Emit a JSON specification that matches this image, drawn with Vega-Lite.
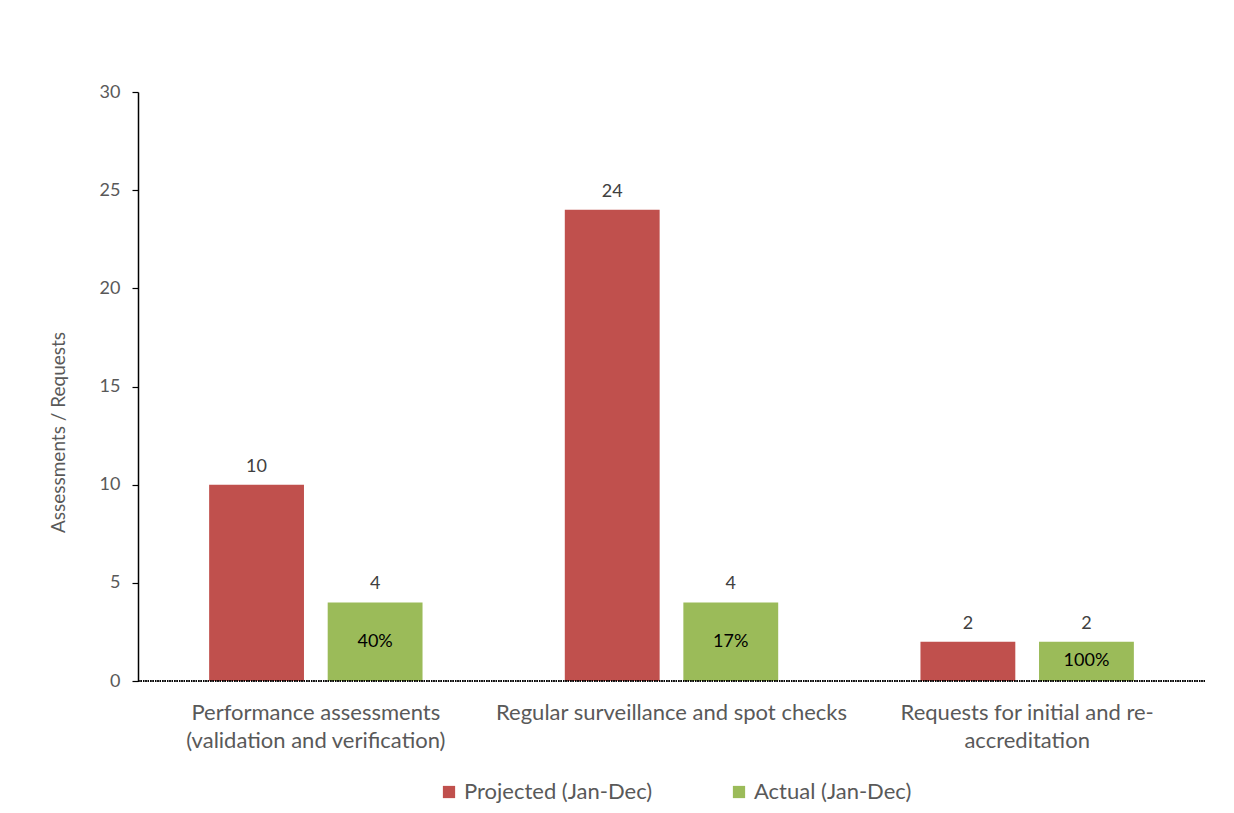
{
  "$schema": "https://vega.github.io/schema/vega-lite/v6.json",
  "autosize": "none",
  "width": 1067,
  "height": 589,
  "padding": {"left": 138, "top": 92, "right": 29, "bottom": 132},
  "background": "white",
  "config": {
    "font": "Lato",
    "view": {"stroke": null},
    "axis": {"labelColor": "#595959", "titleColor": "#595959", "labelFont": "Lato", "titleFont": "Lato"}
  },
  "data": {
    "values": [
      {"category": "Performance assessments (validation and verification)", "series": "Projected (Jan-Dec)", "value": 10, "pct": null},
      {"category": "Performance assessments (validation and verification)", "series": "Actual (Jan-Dec)", "value": 4, "pct": "40%"},
      {"category": "Regular surveillance and spot checks", "series": "Projected (Jan-Dec)", "value": 24, "pct": null},
      {"category": "Regular surveillance and spot checks", "series": "Actual (Jan-Dec)", "value": 4, "pct": "17%"},
      {"category": "Requests for initial and re-accreditation", "series": "Projected (Jan-Dec)", "value": 2, "pct": null},
      {"category": "Requests for initial and re-accreditation", "series": "Actual (Jan-Dec)", "value": 2, "pct": "100%"}
    ]
  },
  "encoding": {
    "x": {
      "field": "category",
      "type": "nominal",
      "sort": null,
      "scale": {"paddingInner": 0.4, "paddingOuter": 0.2},
      "axis": {
        "title": null,
        "domain": false,
        "ticks": false,
        "labelAngle": 0,
        "labelFontSize": 22,
        "labelPadding": 21,
        "labelLineHeight": 28,
        "labelLimit": 0,
        "labelExpr": "datum.value == 'Performance assessments (validation and verification)' ? ['Performance assessments', '(validation and verification)'] : datum.value == 'Requests for initial and re-accreditation' ? ['Requests for initial and re-', 'accreditation'] : datum.value"
      }
    },
    "xOffset": {
      "field": "series",
      "type": "nominal",
      "sort": ["Projected (Jan-Dec)", "Actual (Jan-Dec)"],
      "scale": {"paddingInner": 0.2, "paddingOuter": 0}
    }
  },
  "layer": [
    {
      "mark": {"type": "bar"},
      "encoding": {
        "y": {
          "field": "value",
          "type": "quantitative",
          "scale": {"domain": [0, 30]},
          "axis": {
            "title": "Assessments / Requests",
            "titleFontSize": 19,
            "titleFontWeight": "normal",
            "titleY": 340,
            "titlePadding": 31,
            "values": [0, 5, 10, 15, 20, 25, 30],
            "grid": false,
            "domainColor": "black",
            "domainWidth": 1.5,
            "tickColor": "black",
            "tickSize": 6,
            "tickWidth": 1.2,
            "labelFontSize": 18,
            "labelPadding": 12
          }
        },
        "color": {
          "field": "series",
          "type": "nominal",
          "sort": ["Projected (Jan-Dec)", "Actual (Jan-Dec)"],
          "scale": {"domain": ["Projected (Jan-Dec)", "Actual (Jan-Dec)"], "range": ["#C0504D", "#9BBB59"]},
          "legend": {
            "title": null,
            "orient": "none",
            "direction": "horizontal",
            "legendX": 300,
            "legendY": 689,
            "padding": 0,
            "symbolType": "square",
            "symbolSize": 150,
            "symbolStrokeWidth": 0,
            "labelFontSize": 22,
            "labelColor": "#595959",
            "labelLimit": 0,
            "labelOffset": 4,
            "columnPadding": 75
          }
        }
      }
    },
    {
      "mark": {"type": "text", "baseline": "bottom", "dy": -9, "fontSize": 18, "color": "#404040"},
      "encoding": {
        "y": {"field": "value", "type": "quantitative"},
        "text": {"field": "value", "type": "quantitative"}
      }
    },
    {
      "transform": [
        {"filter": "datum.pct != null"},
        {"calculate": "datum.value / 2", "as": "mid"}
      ],
      "mark": {"type": "text", "baseline": "middle", "fontSize": 18, "color": "#000000"},
      "encoding": {
        "y": {"field": "mid", "type": "quantitative"},
        "text": {"field": "pct", "type": "nominal"}
      }
    },
    {
      "mark": {"type": "rule", "color": "black", "strokeWidth": 1.2, "strokeDash": [1.2, 1.2]},
      "encoding": {"y": {"datum": 0}, "x": null, "xOffset": null}
    }
  ]
}
